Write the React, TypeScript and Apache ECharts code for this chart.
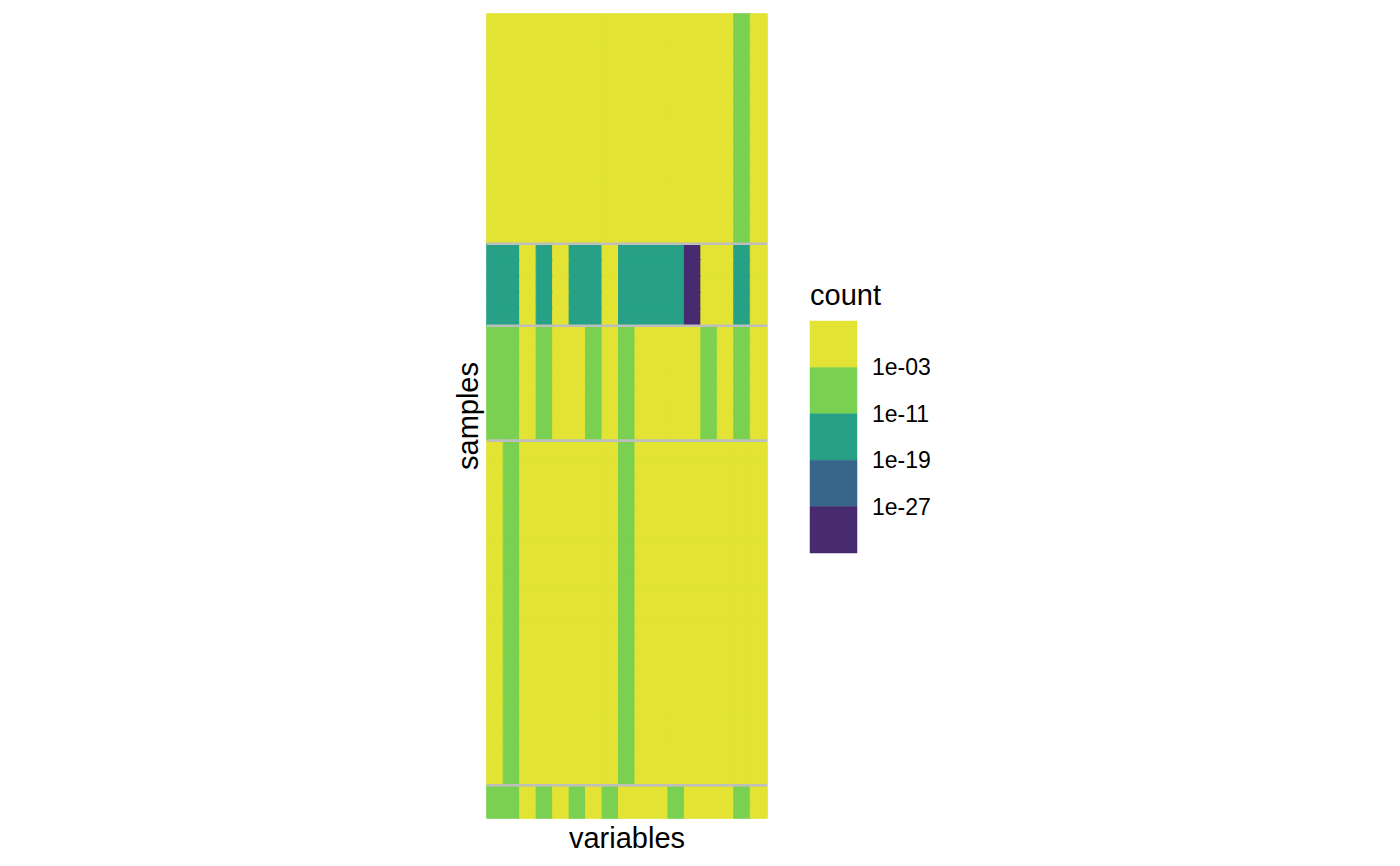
import React, { useEffect, useRef } from "react";
import * as echarts from "echarts";

// ---- data ----
const variables = [
  "v01", "v02", "v03", "v04", "v05", "v06", "v07", "v08", "v09",
  "v10", "v11", "v12", "v13", "v14", "v15", "v16", "v17",
];

// number of samples in each (identical-row) group, top to bottom
const groupSizes = [14, 5, 7, 21, 2];

// counts per variable for each group
const group1 = [0.5, 0.5, 0.5, 0.5, 0.5, 0.5, 0.5, 0.5, 0.5, 0.5, 0.5, 0.5, 0.5, 0.5, 0.5, 1e-7, 0.5];
const group2 = [1e-15, 1e-15, 0.5, 1e-15, 0.5, 1e-15, 1e-15, 0.5, 1e-15, 1e-15, 1e-15, 1e-15, 1e-31, 0.5, 0.5, 1e-15, 0.5];
const group3 = [1e-7, 1e-7, 0.5, 1e-7, 0.5, 0.5, 1e-7, 0.5, 1e-7, 0.5, 0.5, 0.5, 0.5, 1e-7, 0.5, 1e-7, 0.5];
const group4 = [0.5, 1e-7, 0.5, 0.5, 0.5, 0.5, 0.5, 0.5, 1e-7, 0.5, 0.5, 0.5, 0.5, 0.5, 0.5, 0.5, 0.5];
const group5 = [1e-7, 1e-7, 0.5, 1e-7, 0.5, 1e-7, 0.5, 1e-7, 0.5, 0.5, 0.5, 1e-7, 0.5, 0.5, 0.5, 1e-7, 0.5];
const groups = [group1, group2, group3, group4, group5];

// legend breaks (log10 of count) and labels, with bin colours (high → low)
const breakExponents = [-3, -11, -19, -27];
const breakLabels = ["1e-03", "1e-11", "1e-19", "1e-27"];
const binColors = ["#E2E333", "#7AD151", "#26A185", "#37668A", "#472A6F"];

function colorFor(logv: number): string {
  for (let i = 0; i < breakExponents.length; i++) {
    if (logv >= breakExponents[i]) return binColors[i];
  }
  return binColors[binColors.length - 1];
}

export default function App() {
  const ref = useRef<HTMLDivElement>(null);

  useEffect(() => {
    document.body.style.margin = "0";
    const chart = echarts.init(ref.current!, undefined, { renderer: "svg" });

    const samples: string[] = [];
    const heat: any[] = [];
    groups.forEach((g, gi) => {
      for (let r = 0; r < groupSizes[gi]; r++) {
        const yi = samples.length;
        samples.push("s" + (yi + 1));
        g.forEach((v, xi) => {
          const lv = Math.log10(v);
          const c = colorFor(lv);
          heat.push({
            value: [xi, yi, lv],
            itemStyle: { borderColor: c, borderWidth: 1 },
          });
        });
      }
    });
    const boundaries: number[][] = [];
    let acc = 0;
    for (let i = 0; i < groupSizes.length - 1; i++) {
      acc += groupSizes[i];
      boundaries.push([0, acc]);
    }

    const pieces = [
      { gte: breakExponents[0], color: binColors[0] },
      { gte: breakExponents[1], lt: breakExponents[0], color: binColors[1] },
      { gte: breakExponents[2], lt: breakExponents[1], color: binColors[2] },
      { gte: breakExponents[3], lt: breakExponents[2], color: binColors[3] },
      { lt: breakExponents[3], color: binColors[4] },
    ];

    const font = "'Liberation Sans', Helvetica, Arial, sans-serif";
    const keyX = 810, keyTop = 321, keyW = 47, keyH = 46.4;
    const legendEls: any[] = [
      {
        type: "text",
        left: keyX,
        top: 280,
        style: { text: "count", font: `29px ${font}`, fill: "#000" },
      },
    ];
    binColors.forEach((c, i) => {
      legendEls.push({
        type: "rect",
        shape: { x: keyX, y: keyTop + i * keyH, width: keyW, height: keyH },
        style: { fill: c, stroke: c, lineWidth: 0.5 },
      });
    });
    breakLabels.forEach((t, i) => {
      legendEls.push({
        type: "text",
        x: 872,
        y: keyTop + (i + 1) * keyH,
        style: {
          text: t,
          font: `23px ${font}`,
          fill: "#000",
          verticalAlign: "middle",
          align: "left",
        },
      });
    });

    chart.setOption({
      animation: false,
      grid: { left: 487, top: 14, width: 280, height: 804, containLabel: false },
      xAxis: {
        type: "category",
        data: variables,
        name: "variables",
        nameLocation: "middle",
        nameGap: 5,
        nameTextStyle: { fontSize: 29, fontFamily: font, color: "#000", verticalAlign: "top" },
        axisLabel: { show: false },
        axisTick: { show: false },
        axisLine: { show: false },
        splitLine: { show: false },
      },
      yAxis: {
        type: "category",
        data: samples,
        inverse: true,
        name: "samples",
        nameLocation: "middle",
        nameGap: 5,
        nameTextStyle: { fontSize: 29, fontFamily: font, color: "#000" },
        axisLabel: { show: false },
        axisTick: { show: false },
        axisLine: { show: false },
        splitLine: { show: false },
      },
      visualMap: {
        show: false,
        type: "piecewise",
        dimension: 2,
        seriesIndex: 0,
        pieces,
      },
      graphic: legendEls,
      series: [
        {
          type: "heatmap",
          data: heat,
          emphasis: { disabled: true },
        },
        {
          type: "custom",
          data: boundaries,
          encode: { x: 0, y: 1 },
          z: 10,
          renderItem: (params: any, api: any) => {
            const cs = params.coordSys;
            const p = api.coord([api.value(0), api.value(1)]);
            const band = api.size([0, 1])[1];
            const yl = p[1] - band / 2;
            return {
              type: "line",
              shape: { x1: cs.x, y1: yl, x2: cs.x + cs.width, y2: yl },
              style: { stroke: "#BEBEBE", lineWidth: 2.6 },
            };
          },
        },
      ],
    });

    return () => chart.dispose();
  }, []);

  return <div ref={ref} style={{ width: 1400, height: 866 }} />;
}
